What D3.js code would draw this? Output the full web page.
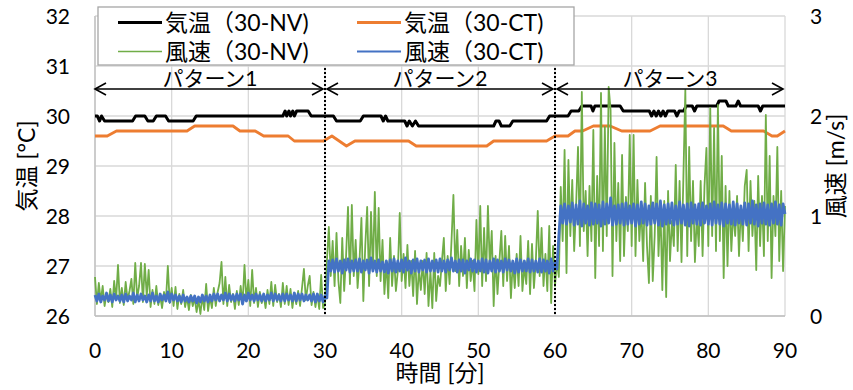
<!DOCTYPE html>
<html>
<head>
<meta charset="utf-8">
<script src="https://cdn.jsdelivr.net/npm/d3@7/dist/d3.min.js"></script>
<style>
  html, body { margin: 0; padding: 0; background: #fff; }
  svg { display: block; }
  text { font-family: Lato, "Noto Sans CJK JP", sans-serif; fill: #000; }
</style>
</head>
<body>
<svg id="chart" width="853" height="390"></svg>
<script>
// ---------------- DATA ----------------
const xTicks = [0, 10, 20, 30, 40, 50, 60, 70, 80, 90];
const tempTicks = [26, 27, 28, 29, 30, 31, 32];
const windTicks = [0, 1, 2, 3];

const seriesNames = ["気温（30-NV)", "気温（30-CT)", "風速（30-NV)", "風速（30-CT)"];
const patternNames = ["パターン1", "パターン2", "パターン3"];
const patternBounds = [[0, 30], [30, 60], [60, 90]];
const dividerTimes = [30, 60];

// Air temperature 30-NV  [minute, °C]
const tempNV = [
  [0,30.0],[0.3,30.0],[0.6,29.9],[0.85,30.0],[1.25,29.9],[4.9,29.9],[5.3,30.0],[6.5,30.0],
  [6.9,29.9],[7.6,29.9],[8.0,30.0],[9.2,30.0],[9.6,29.9],[12.8,29.9],[13.2,30.0],[24.5,30.0],
  [24.8,30.1],[25.0,30.0],[25.3,30.1],[25.5,30.0],[25.8,30.1],[26.0,30.0],[26.3,30.1],[27.8,30.1],
  [28.2,30.0],[31.1,30.0],[31.5,29.9],[34.6,29.9],[35.0,30.0],[37.3,30.0],[37.6,29.9],[37.9,30.0],
  [38.2,29.9],[40.4,29.9],[40.7,29.8],[41.0,29.9],[41.4,29.8],[41.8,29.9],[42.2,29.8],[52.0,29.8],
  [52.3,29.9],[52.7,29.9],[53.0,29.8],[54.1,29.8],[54.5,29.9],[58.9,29.9],[59.3,30.0],[61.7,30.0],
  [62.1,30.1],[63.1,30.1],[63.5,30.2],[64.7,30.2],[64.95,30.1],[65.2,30.2],[68.5,30.2],[68.9,30.1],
  [72.3,30.1],[72.6,30.0],[72.9,30.1],[73.2,30.0],[73.5,30.1],[73.8,30.0],[74.1,30.1],[74.4,30.0],
  [74.7,30.1],[75.6,30.1],[75.9,30.0],[76.2,30.1],[76.8,30.1],[77.1,30.2],[77.9,30.2],[78.2,30.1],
  [78.5,30.2],[81.1,30.2],[81.4,30.3],[82.3,30.3],[82.6,30.2],[83.6,30.2],[83.9,30.3],[84.2,30.2],
  [86.5,30.2],[86.8,30.1],[87.1,30.2],[90,30.2]
];

// Air temperature 30-CT  [minute, °C]
const tempCT = [
  [0,29.6],[1.6,29.6],[2.8,29.7],[12.0,29.7],[13.0,29.8],[18.0,29.8],[18.9,29.7],[20.9,29.7],
  [22.0,29.6],[25.2,29.6],[26.0,29.5],[29.8,29.5],[30.9,29.6],[32.8,29.4],[33.9,29.5],[40.9,29.5],
  [41.9,29.4],[51.1,29.4],[52.0,29.5],[58.9,29.5],[60.0,29.6],[61.7,29.6],[62.6,29.7],[63.6,29.7],
  [65.0,29.8],[67.2,29.8],[68.7,29.7],[72.4,29.7],[73.7,29.8],[81.95,29.8],[83.0,29.7],[87.2,29.7],
  [88.3,29.6],[89.0,29.6],[90,29.7]
];

// Wind speed, sampled every 0.25 minute (one row = one minute)
const windStep = 0.25;
const windNV = [
  0.39,0.12,0.33,0.15, 0.30,0.10,0.22,0.14, 0.27,0.09,0.35,0.16, 0.51,0.13,0.28,0.11,
  0.34,0.16,0.25,0.37, 0.12,0.53,0.18,0.30, 0.53,0.14,0.52,0.20, 0.46,0.09,0.26,0.12,
  0.30,0.11,0.20,0.08, 0.24,0.15,0.50,0.13, 0.28,0.10,0.29,0.07, 0.22,0.12,0.26,0.09,
  0.19,0.06,0.21,0.10, 0.18,0.04,0.16,0.02, 0.20,0.06,0.32,0.05, 0.19,0.08,0.28,0.10,
  0.24,0.33,0.54,0.12, 0.39,0.10,0.31,0.14, 0.22,0.07,0.25,0.11, 0.30,0.12,0.51,0.15,
  0.36,0.10,0.46,0.13, 0.28,0.09,0.24,0.13, 0.21,0.08,0.26,0.12, 0.34,0.10,0.31,0.14,
  0.22,0.09,0.33,0.12, 0.30,0.11,0.27,0.08, 0.23,0.12,0.25,0.10, 0.28,0.47,0.16,0.30,
  0.40,0.11,0.24,0.09, 0.22,0.07,0.41,0.08,
  0.12,0.55,0.89,0.40, 0.75,0.30,0.83,0.35, 0.13,0.78,0.25,0.60, 1.09,0.32,1.11,0.40,
  0.76,0.28,0.55,0.98, 0.15,0.70,1.09,0.30, 1.04,0.45,1.24,0.40, 1.08,0.35,0.76,0.22,
  0.55,0.18,0.78,0.30, 0.60,0.25,0.45,1.03, 0.35,0.62,0.28,0.71, 0.30,0.55,0.20,0.65,
  0.12,0.48,0.26,0.55, 0.22,0.63,0.10,0.45, 0.08,0.63,0.15,0.40, 0.30,0.55,0.78,0.25,
  0.60,0.32,0.75,1.21, 0.45,0.86,0.30,0.70, 0.40,0.78,0.28,0.66, 0.35,0.55,0.25,0.96,
  0.42,1.10,0.30,0.88, 0.35,1.10,0.50,0.85, 0.10,0.60,0.22,0.55, 0.85,0.30,0.80,0.35,
  0.70,0.18,0.55,0.28, 0.62,0.30,0.80,0.25, 0.50,0.32,0.75,0.22, 0.72,0.28,0.55,1.05,
  0.40,0.88,0.30,0.62, 0.25,0.90,0.13,0.70,
  0.30,0.55,0.39,1.29, 0.75,1.66,0.43,1.56, 0.80,1.36,0.65,1.10, 1.69,0.70,2.24,0.85,
  1.25,0.60,1.30,0.75, 1.86,0.38,1.40,0.70, 2.23,0.65,1.89,0.80, 2.29,2.06,0.40,1.73,
  0.75,1.33,0.55,1.61, 0.60,1.19,0.85,1.81, 0.70,1.81,0.60,1.36, 0.75,1.10,0.55,1.33,
  0.70,0.33,1.20,0.35, 0.80,1.59,0.60,1.10, 0.26,1.15,0.19,1.25, 0.55,0.95,0.70,1.51,
  0.65,1.35,0.54,1.40, 2.26,0.60,1.69,0.75, 1.35,0.54,1.00,0.70, 1.35,0.60,1.30,1.68,
  0.70,2.08,0.80,1.88, 0.65,2.11,0.75,1.60, 0.38,1.30,0.50,1.25, 0.65,1.05,0.80,1.20,
  0.60,1.10,0.75,1.30, 1.46,0.65,1.35,0.80, 1.15,0.46,1.40,0.70, 1.20,0.60,2.01,0.75,
  1.60,0.38,1.20,0.80, 1.69,0.55,1.25,0.45,
  1.10
];
const windCT = [
  0.21,0.15,0.22,0.14, 0.20,0.16,0.23,0.15, 0.21,0.14,0.22,0.16, 0.20,0.15,0.21,0.14,
  0.22,0.15,0.20,0.16, 0.23,0.14,0.21,0.15, 0.22,0.16,0.20,0.14, 0.21,0.15,0.23,0.15,
  0.20,0.14,0.22,0.16, 0.21,0.15,0.24,0.14, 0.22,0.16,0.21,0.15, 0.20,0.14,0.21,0.15,
  0.19,0.14,0.20,0.15, 0.20,0.13,0.19,0.14, 0.21,0.15,0.20,0.14, 0.21,0.15,0.22,0.16,
  0.22,0.15,0.21,0.16, 0.23,0.15,0.22,0.16, 0.21,0.15,0.22,0.16, 0.22,0.12,0.21,0.15,
  0.23,0.16,0.21,0.15, 0.22,0.16,0.21,0.15, 0.22,0.15,0.21,0.16, 0.23,0.15,0.22,0.16,
  0.21,0.15,0.22,0.15, 0.22,0.16,0.21,0.15, 0.23,0.15,0.22,0.16, 0.22,0.15,0.21,0.16,
  0.21,0.15,0.22,0.14, 0.22,0.15,0.21,0.14,
  0.20,0.18,0.55,0.45, 0.56,0.44,0.57,0.45, 0.55,0.43,0.56,0.46, 0.57,0.44,0.55,0.45,
  0.56,0.45,0.57,0.44, 0.55,0.46,0.56,0.43, 0.58,0.45,0.55,0.44, 0.56,0.45,0.54,0.44,
  0.55,0.43,0.56,0.45, 0.57,0.44,0.55,0.45, 0.56,0.44,0.58,0.46, 0.55,0.43,0.56,0.45,
  0.57,0.44,0.55,0.46, 0.56,0.44,0.57,0.45, 0.55,0.45,0.56,0.44, 0.57,0.45,0.55,0.44,
  0.56,0.46,0.58,0.45, 0.55,0.44,0.56,0.45, 0.56,0.43,0.55,0.46, 0.57,0.45,0.56,0.44,
  0.55,0.45,0.57,0.44, 0.56,0.43,0.55,0.45, 0.57,0.44,0.56,0.45, 0.55,0.44,0.57,0.46,
  0.56,0.45,0.55,0.43, 0.57,0.44,0.56,0.45, 0.55,0.45,0.57,0.44, 0.56,0.45,0.55,0.44,
  0.57,0.44,0.56,0.45, 0.55,0.43,0.57,0.45,
  0.54,0.47,0.80,1.10, 0.93,1.12,0.92,1.10, 0.94,1.13,0.91,1.11, 0.92,1.15,0.90,1.12,
  0.93,1.10,0.91,1.13, 0.92,1.12,0.93,1.11, 0.90,1.14,0.92,1.12, 0.93,1.18,0.91,1.10,
  0.92,1.11,0.93,1.12, 0.91,1.13,0.92,1.10, 0.93,1.12,0.90,1.11, 0.92,1.14,0.93,1.12,
  0.91,1.10,0.92,1.13, 0.93,1.12,0.91,1.15, 0.90,1.11,0.92,1.12, 0.93,1.13,0.91,1.10,
  0.92,1.14,0.93,1.11, 0.91,1.12,0.90,1.13, 0.93,1.11,0.92,1.12, 0.91,1.13,0.93,1.10,
  0.92,1.12,0.91,1.14, 0.93,1.11,0.92,1.13, 0.90,1.12,0.93,1.11, 0.92,1.14,0.91,1.12,
  0.93,1.10,0.92,1.13, 0.91,1.12,0.93,1.15, 0.92,1.11,0.90,1.12, 0.93,1.13,0.92,1.11,
  0.91,1.12,0.93,1.14, 0.92,1.11,0.91,1.12,
  1.02
];

// ---------------- CHART ----------------
const colors = { nv: "#000000", ct: "#ED7D31", wNV: "#70AD47", wCT: "#4472C4" };
const svg = d3.select("#chart");

const x = d3.scaleLinear().domain([0, 90]).range([95, 785]);
const yT = d3.scaleLinear().domain([26, 32]).range([316, 16]);
const yW = d3.scaleLinear().domain([0, 3]).range([316, 16]);

// gridlines
const grid = svg.append("g");
grid.selectAll("line.h").data(tempTicks).join("line")
  .attr("x1", x(0)).attr("x2", x(90))
  .attr("y1", d => yT(d)).attr("y2", d => yT(d))
  .attr("stroke", "#d9d9d9").attr("stroke-width", 1.3);
grid.selectAll("line.v").data(xTicks).join("line")
  .attr("x1", d => x(d)).attr("x2", d => x(d))
  .attr("y1", yT(32)).attr("y2", yT(26))
  .attr("stroke", "#d9d9d9").attr("stroke-width", 1.3);
// axis lines
svg.append("line").attr("x1", x(0)).attr("x2", x(90)).attr("y1", yT(26)).attr("y2", yT(26))
  .attr("stroke", "#bfbfbf").attr("stroke-width", 1.3);
svg.append("line").attr("x1", x(0)).attr("x2", x(0)).attr("y1", yT(32)).attr("y2", yT(26))
  .attr("stroke", "#bfbfbf").attr("stroke-width", 1.3);

// temperature lines
const tLine = d3.line().x(d => x(d[0])).y(d => yT(d[1]));
svg.append("path").datum(tempCT).attr("d", tLine)
  .attr("fill", "none").attr("stroke", colors.ct).attr("stroke-width", 2.8).attr("stroke-linejoin", "round");
svg.append("path").datum(tempNV).attr("d", tLine)
  .attr("fill", "none").attr("stroke", colors.nv).attr("stroke-width", 3).attr("stroke-linejoin", "round");

// wind lines
const wLine = d3.line().x((d, i) => x(i * windStep)).y(d => yW(d));
svg.append("path").datum(windNV).attr("d", wLine)
  .attr("fill", "none").attr("stroke", colors.wNV).attr("stroke-width", 1.8).attr("stroke-linejoin", "round");
svg.append("path").datum(windCT).attr("d", wLine)
  .attr("fill", "none").attr("stroke", colors.wCT).attr("stroke-width", 2.8).attr("stroke-linejoin", "round");

// dotted dividers
svg.selectAll("line.div").data(dividerTimes).join("line")
  .attr("x1", d => x(d)).attr("x2", d => x(d))
  .attr("y1", 68).attr("y2", yT(26))
  .attr("stroke", "#000").attr("stroke-width", 2).attr("stroke-dasharray", "2,2");

// pattern arrows & labels
const arrowY = 89;
const ag = svg.append("g").attr("fill", "none").attr("stroke", "#000").attr("stroke-width", 1.6);
patternBounds.forEach((b, i) => {
  const x1 = x(b[0]) + (i === 0 ? 0 : 2);
  const x2 = x(b[1]) - 2;
  ag.append("line").attr("x1", x1).attr("x2", x2).attr("y1", arrowY).attr("y2", arrowY);
  ag.append("polyline").attr("points", `${x1 + 11},${arrowY - 6} ${x1},${arrowY} ${x1 + 11},${arrowY + 6}`);
  ag.append("polyline").attr("points", `${x2 - 11},${arrowY - 6} ${x2},${arrowY} ${x2 - 11},${arrowY + 6}`);
  svg.append("text").attr("x", (x(b[0]) + x(b[1])) / 2).attr("y", 86)
    .attr("text-anchor", "middle").attr("font-size", 21).text(patternNames[i]);
});

// axis tick labels
svg.selectAll("text.yl").data(tempTicks).join("text")
  .attr("x", 70).attr("y", d => yT(d)).attr("dy", "0.36em")
  .attr("text-anchor", "end").attr("font-size", 21).text(d => d);
svg.selectAll("text.yr").data(windTicks).join("text")
  .attr("x", 810).attr("y", d => yW(d)).attr("dy", "0.36em")
  .attr("text-anchor", "start").attr("font-size", 21).text(d => d);
svg.selectAll("text.xl").data(xTicks).join("text")
  .attr("x", d => x(d)).attr("y", 350).attr("dy", "0.36em")
  .attr("text-anchor", "middle").attr("font-size", 21).text(d => d);

// axis titles
svg.append("text").attr("transform", "translate(27,166) rotate(-90)")
  .attr("text-anchor", "middle").attr("dy", "0.36em").attr("font-size", 23).text("気温 [°C]");
svg.append("text").attr("transform", "translate(836,166) rotate(-90)")
  .attr("text-anchor", "middle").attr("dy", "0.36em").attr("font-size", 23).text("風速 [m/s]");
svg.append("text").attr("x", 440).attr("y", 373).attr("dy", "0.36em")
  .attr("text-anchor", "middle").attr("font-size", 23).text("時間 [分]");

// legend
const lg = svg.append("g");
lg.append("rect").attr("x", 98).attr("y", 7).attr("width", 476).attr("height", 58)
  .attr("fill", "#fff").attr("stroke", "#a6a6a6").attr("stroke-width", 1.3);
const legendItems = [
  { name: seriesNames[0], color: colors.nv, w: 3, lx: 118, ty: 22.5 },
  { name: seriesNames[1], color: colors.ct, w: 3, lx: 357, ty: 22.5 },
  { name: seriesNames[2], color: colors.wNV, w: 1.5, lx: 118, ty: 51.5 },
  { name: seriesNames[3], color: colors.wCT, w: 1.8, lx: 357, ty: 51.5 }
];
legendItems.forEach(it => {
  lg.append("line").attr("x1", it.lx).attr("x2", it.lx + 44).attr("y1", it.ty).attr("y2", it.ty)
    .attr("stroke", it.color).attr("stroke-width", it.w);
  lg.append("text").attr("x", it.lx + 47).attr("y", it.ty).attr("dy", "0.36em")
    .attr("font-size", 23).text(it.name);
});
</script>
</body>
</html>
